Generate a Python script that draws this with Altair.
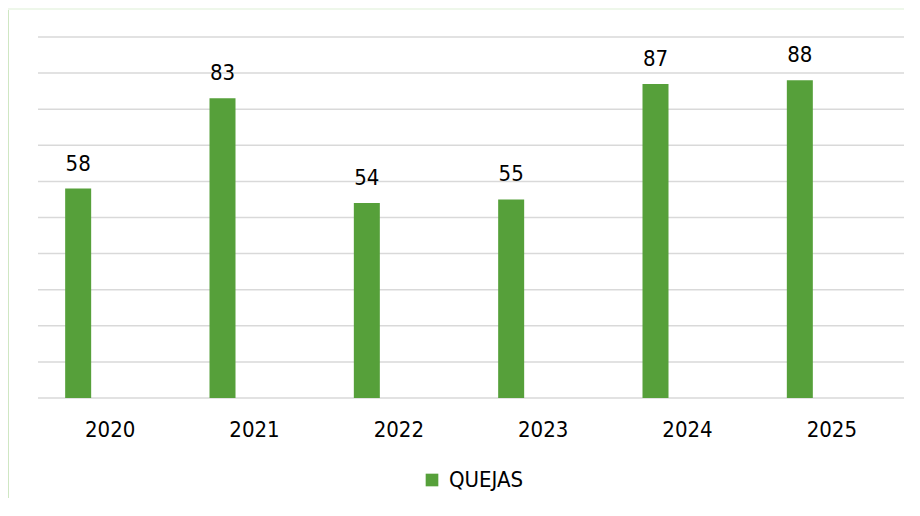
import altair as alt
import pandas as pd

years = ["2020", "2021", "2022", "2023", "2024", "2025"]
quejas = [58, 83, 54, 55, 87, 88]
series = ["QUEJAS"] * len(years)
grid_values = [0, 10, 20, 30, 40, 50, 60, 70, 80, 90, 100]

df = pd.DataFrame({"year": years, "value": quejas, "serie": series})
grid_df = pd.DataFrame({"v": grid_values})

FONT = "DejaVu Sans Condensed"
GREEN = "#56a03a"

x_enc = alt.X("year:N", sort=years,
              scale=alt.Scale(paddingInner=0, paddingOuter=0),
              axis=alt.Axis(title=None, labelAngle=0, domain=False, ticks=False, tickSize=0,
                            labelFont=FONT, labelFontSize=22, labelColor="#000000",
                            labelBaseline="alphabetic", labelPadding=38, grid=False))
y_scale = alt.Scale(domain=[0, 100], nice=False)

grid = alt.Chart(grid_df).mark_rule(color="#d9d9d9", strokeWidth=1.5).encode(
    y=alt.Y("v:Q", scale=y_scale, axis=None),
    x=alt.value(0), x2=alt.value(866),
)

bars = alt.Chart(df).mark_bar(width=26, xOffset=-32).encode(
    x=x_enc,
    y=alt.Y("value:Q", scale=y_scale, axis=None),
    color=alt.Color("serie:N", scale=alt.Scale(domain=["QUEJAS"], range=[GREEN]),
                    legend=alt.Legend(title=None, orient="none", legendX=383, legendY=432,
                                      symbolType="square", symbolSize=160, symbolStrokeWidth=0,
                                      labelFont=FONT, labelFontSize=22, labelColor="#000000",
                                      labelOffset=6)),
)

labels = alt.Chart(df).mark_text(xOffset=-32, dy=-18, baseline="alphabetic",
                                 font=FONT, fontSize=22, color="#000000").encode(
    x=alt.X("year:N", sort=years),
    y=alt.Y("value:Q", scale=y_scale, axis=None),
    text="value:Q",
)

frame_left = alt.Chart(df).mark_rule(color="#cfe7c3", strokeWidth=1.5).encode(
    x=alt.value(-30), y=alt.value(-29), y2=alt.value(471))
frame_top = alt.Chart(df).mark_rule(color="#eef7ea", strokeWidth=1.5).encode(
    x=alt.value(-30), x2=alt.value(866), y=alt.value(-28))

chart = alt.layer(frame_left, frame_top, grid, bars, labels).properties(
    width=866, height=361,
    autosize=alt.AutoSizeParams(type="none"),
    padding={"left": 30, "top": 29, "right": 0, "bottom": 100},
    background="#ffffff",
).configure_view(stroke=None)

chart.save("out.html", embed_options={"renderer": "svg", "actions": False})
